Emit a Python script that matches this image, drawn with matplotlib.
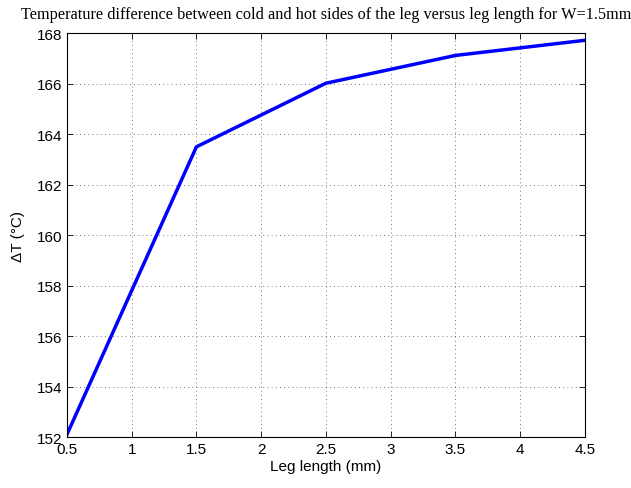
import matplotlib
matplotlib.use("Agg")
import matplotlib.pyplot as plt

# data
leg_length = [0.5, 1.5, 2.5, 3.5, 4.5]
delta_t = [152.1, 163.5, 166.02, 167.12, 167.72]

x_ticks = [0.5, 1, 1.5, 2, 2.5, 3, 3.5, 4, 4.5]
y_ticks = [152, 154, 156, 158, 160, 162, 164, 166, 168]

plt.rcParams["font.family"] = ["Liberation Sans", "DejaVu Sans"]

fig = plt.figure(figsize=(6.31, 4.89), dpi=100)
ax = fig.add_axes([0.106, 0.104, 0.821, 0.826])

ax.plot(leg_length, delta_t, color="#0000FF", lw=2.5)

ax.set_xlim(0.5, 4.5)
ax.set_ylim(152, 168)
ax.set_xticks(x_ticks)
ax.set_xticklabels(["0.5", "1", "1.5", "2", "2.5", "3", "3.5", "4", "4.5"])
ax.set_yticks(y_ticks)

ax.grid(True, linestyle=(0, (1, 4)), color="black", lw=0.6, alpha=0.7)
ax.tick_params(direction="in", top=True, right=True, labelsize=11, length=4, width=0.6)
for s in ax.spines.values():
    s.set_linewidth(0.8)

ax.set_xlabel("Leg length (mm)", fontsize=11, labelpad=2)
ax.set_ylabel("ΔT (°C)", fontsize=11, labelpad=8)
ax.set_title("Temperature difference between cold and hot sides of the leg versus leg length for W=1.5mm",
             fontsize=11.7, family="Liberation Serif", pad=11)

fig.savefig("out.png", dpi=100)
